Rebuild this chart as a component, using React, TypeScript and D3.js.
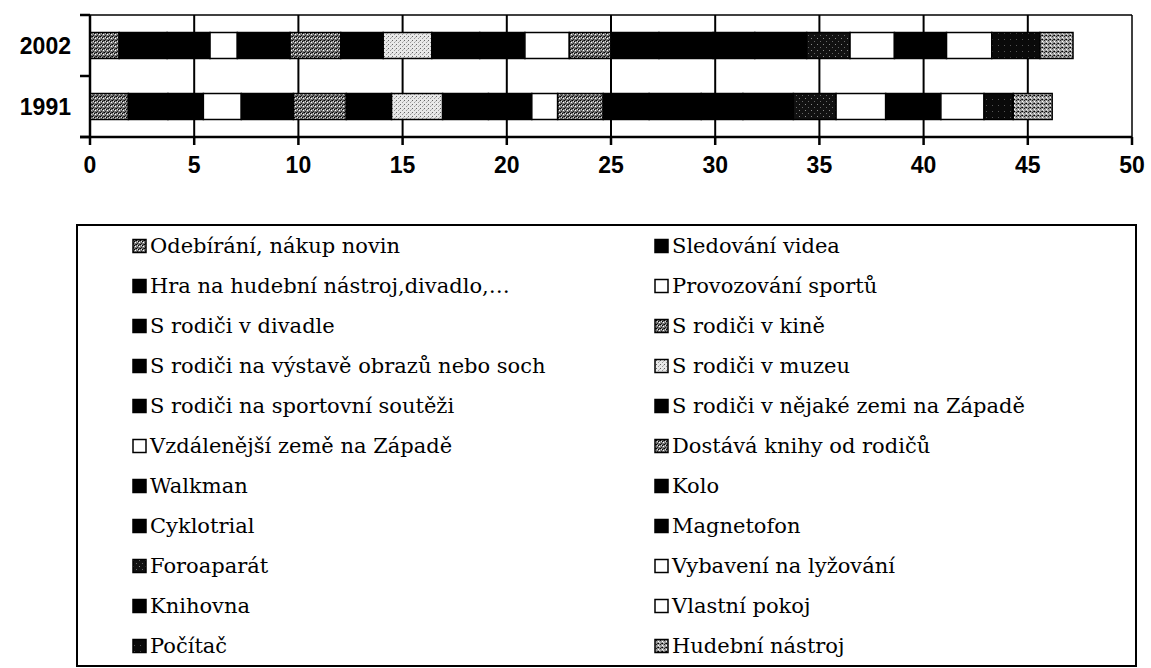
import React from "react";
import * as d3 from "d3";

const categories = ["2002", "1991"];

const seriesNames = [
  "Odebírání, nákup novin",
  "Sledování videa",
  "Hra na hudební nástroj,divadlo,…",
  "Provozování sportů",
  "S rodiči v divadle",
  "S rodiči v kině",
  "S rodiči na výstavě obrazů nebo soch",
  "S rodiči v muzeu",
  "S rodiči na sportovní soutěži",
  "S rodiči v nějaké zemi na Západě",
  "Vzdálenější země na Západě",
  "Dostává knihy od rodičů",
  "Walkman",
  "Kolo",
  "Cyklotrial",
  "Magnetofon",
  "Foroaparát",
  "Vybavení na lyžování",
  "Knihovna",
  "Vlastní pokoj",
  "Počítač",
  "Hudební nástroj",
];

const seriesFill = [
  "dk", "bk", "bk", "wh", "bk", "dk", "bk", "lt", "bk", "bk", "wh",
  "dk", "bk", "bk", "bk", "bk", "fo", "wh", "bk", "wh", "pc", "hn",
];

const values2002 = [
  1.4, 2.3, 2.06, 1.31, 2.53, 2.43, 2.04, 2.33, 2.3, 2.17, 2.13,
  2.0, 2.3, 2.6, 2.0, 2.49, 2.08, 2.13, 2.5, 2.17, 2.31, 1.59,
];

const values1991 = [
  1.84, 1.9, 1.7, 1.82, 2.5, 2.54, 2.17, 2.45, 2.2, 2.08, 1.24,
  2.19, 2.2, 2.5, 2.0, 2.42, 2.05, 2.38, 2.65, 2.07, 1.4, 1.87,
];

const xTicks = [0, 5, 10, 15, 20, 25, 30, 35, 40, 45, 50];

const fillFor = (k: string) =>
  k === "bk" ? "#000" : k === "wh" ? "#fff" : `url(#p-${k})`;

function Patterns() {
  const dots = (bg: string, pts: [number, number, string][]) => (
    <>
      <rect width={4} height={4} fill={bg} />
      {pts.map(([x, y, c], i) => (
        <rect key={i} x={x} y={y} width={1} height={1} fill={c} />
      ))}
    </>
  );
  return (
    <defs>
      <pattern id="p-dk" width={4} height={4} patternUnits="userSpaceOnUse">
        {dots("#7a7a7a", [[0, 0, "#000"], [2, 1, "#000"], [1, 3, "#222"], [3, 2, "#fff"], [1, 1, "#ddd"], [3, 0, "#333"]])}
      </pattern>
      <pattern id="p-lt" width={4} height={4} patternUnits="userSpaceOnUse">
        {dots("#e8e8e8", [[0, 0, "#666"], [2, 2, "#999"], [3, 1, "#bbb"]])}
      </pattern>
      <pattern id="p-hn" width={4} height={4} patternUnits="userSpaceOnUse">
        {dots("#9a9a9a", [[0, 0, "#222"], [2, 1, "#fff"], [1, 3, "#333"], [3, 2, "#ddd"], [2, 3, "#000"]])}
      </pattern>
      <pattern id="p-fo" width={6} height={6} patternUnits="userSpaceOnUse">
        <rect width={6} height={6} fill="#111" />
        <rect x={1} y={2} width={1} height={1} fill="#888" />
        <rect x={4} y={5} width={1} height={1} fill="#666" />
      </pattern>
      <pattern id="p-pc" width={6} height={6} patternUnits="userSpaceOnUse">
        <rect width={6} height={6} fill="#0a0a0a" />
        <rect x={2} y={3} width={1} height={1} fill="#555" />
      </pattern>
    </defs>
  );
}

export default function App() {
  const W = 1151;
  const H = 668;
  const left = 90;
  const right = 1132;
  const top = 15;
  const bottom = 137;

  const x = d3.scaleLinear().domain([0, 50]).range([left, right]);
  const y = d3
    .scaleBand<string>()
    .domain(categories)
    .range([top, bottom])
    .paddingInner(0.574)
    .paddingOuter(0.287);

  const rows = [values2002, values1991];
  const stack = rows.map((vals) => {
    let acc = 0;
    return vals.map((v, i) => {
      const s = acc;
      acc += v;
      return { i, x0: s, x1: acc };
    });
  });

  const tickStyle: React.CSSProperties = {
    fontFamily: "Liberation Sans, Arial, Helvetica, sans-serif",
    fontWeight: "bold",
    fontSize: "23px",
  };
  const legStyle: React.CSSProperties = {
    fontFamily: "DejaVu Serif, serif",
    fontSize: "21px",
  };

  const legRows = Math.ceil(seriesNames.length / 2);
  const legY = d3.scaleLinear().domain([0, legRows - 1]).range([246, 646]);
  const legColX = [133, 655];

  const boundaries = [top, (top + bottom) / 2, bottom];

  return (
    <div style={{ position: "fixed", left: 0, top: 0 }}>
      <svg width={W} height={H} style={{ display: "block", background: "#fff" }}>
        <Patterns />
        <line x1={left} x2={right} y1={top} y2={top} stroke="#000" strokeWidth={1.5} />
        <line x1={right} x2={right} y1={top} y2={bottom} stroke="#000" strokeWidth={1.5} />
        {xTicks.slice(1, -1).map((t) => (
          <line key={t} x1={x(t)} x2={x(t)} y1={top} y2={bottom} stroke="#000" strokeWidth={2} />
        ))}
        {stack.map((segs, r) =>
          segs.map((s) => (
            <rect
              key={`${r}-${s.i}`}
              x={x(s.x0)}
              y={y(categories[r])}
              width={x(s.x1) - x(s.x0)}
              height={y.bandwidth()}
              fill={fillFor(seriesFill[s.i])}
              stroke="#000"
              strokeWidth={1.5}
            />
          ))
        )}
        <line x1={left} x2={left} y1={top} y2={bottom} stroke="#000" strokeWidth={2.5} />
        <line x1={left - 10} x2={right} y1={bottom} y2={bottom} stroke="#000" strokeWidth={2.5} />
        {boundaries.map((b, i) => (
          <line key={i} x1={left - 10} x2={left} y1={b} y2={b} stroke="#000" strokeWidth={2.5} />
        ))}
        {xTicks.map((t) => (
          <g key={t}>
            <line x1={x(t)} x2={x(t)} y1={bottom} y2={bottom + 8} stroke="#000" strokeWidth={2.5} />
            <text x={x(t)} y={bottom + 36} textAnchor="middle" style={tickStyle}>
              {t}
            </text>
          </g>
        ))}
        {categories.map((c) => (
          <text
            key={c}
            x={71}
            y={(y(c) as number) + y.bandwidth() / 2}
            dy="0.36em"
            textAnchor="end"
            style={tickStyle}
          >
            {c}
          </text>
        ))}
        <rect x={77} y={225} width={1059} height={441} fill="#fff" stroke="#000" strokeWidth={2} />
        {seriesNames.map((name, i) => {
          const col = i % 2;
          const row = Math.floor(i / 2);
          const cy = legY(row);
          const mx = legColX[col];
          return (
            <g key={name}>
              <rect
                x={mx}
                y={cy - 6.5}
                width={13}
                height={13}
                fill={fillFor(seriesFill[i])}
                stroke="#000"
                strokeWidth={1.5}
              />
              <text x={mx + 17} y={cy} dy="0.34em" style={legStyle}>
                {name}
              </text>
            </g>
          );
        })}
      </svg>
    </div>
  );
}
